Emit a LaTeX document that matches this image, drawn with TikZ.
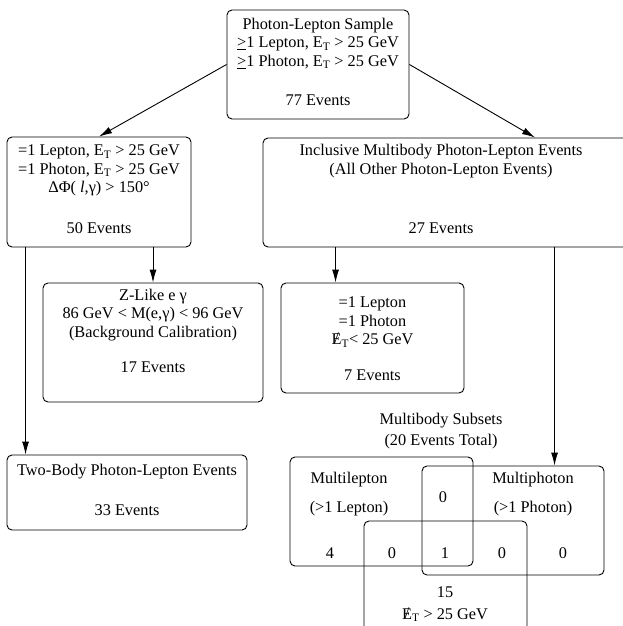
\documentclass[tikz,border=0pt]{standalone}
\usepackage{fontspec}
\setmainfont{Liberation Serif}
\usetikzlibrary{arrows.meta,positioning,calc}

\newcommand{\ET}{E$_{\mathrm{T}}$}
\newcommand{\metET}{\ooalign{E\cr\hidewidth\raisebox{0.1ex}{/}\hidewidth}$_{\mathrm{T}}$}
\newcommand{\geone}{\underline{>}1}

\begin{document}
\begin{tikzpicture}[x=1pt, y=-1pt,
  font=\fontsize{16.3}{18.5}\selectfont,
  box/.style={draw, rounded corners=5pt, line width=0.9pt, inner sep=0pt},
  txt/.style={align=center, inner sep=0pt},
  arr/.style={-{Latex[length=13pt,width=7pt]}, line width=0.9pt}]
  \useasboundingbox (0,0) rectangle (623,626);

  % boxes
  \node[box, minimum width=182pt, minimum height=109pt] (sample) at (318,64.5) {};
  \node[box, minimum width=184pt, minimum height=110pt] (twobodysel) at (99,192) {};
  \node[box, minimum width=544pt, minimum height=109pt] (incl) at (535,192.5) {};
  \node[box, minimum width=220pt, minimum height=119pt] (zlike) at (153,342.5) {};
  \node[box, minimum width=183pt, minimum height=110pt] (lowmet) at (372.5,338) {};
  \node[box, minimum width=240pt, minimum height=75pt] (twobody) at (127,492.5) {};
  \node[box, minimum width=183pt, minimum height=109pt] (multilep) at (381.5,511.5) {};
  \node[box, minimum width=182pt, minimum height=109pt] (multipho) at (513,520.5) {};
  \node[box, minimum width=163pt, minimum height=158pt] (highmet) at (445.5,600) {};

  % texts
  \node[txt] (sampleT) at (318,43.5) {Photon-Lepton Sample\\\geone{} Lepton, \ET{} > 25 GeV\\\geone{} Photon, \ET{} > 25 GeV};
  \node[txt] (sampleN) at (318,100) {77 Events};
  \node[txt] (twobodyselT) at (99,170.5) {=1 Lepton, \ET{} > 25 GeV\\=1 Photon, \ET{} > 25 GeV\\ΔΦ( \textit{l},γ) > 150°};
  \node[txt] (twobodyselN) at (99,228) {50 Events};
  \node[txt] (inclT) at (441,161) {Inclusive Multibody Photon-Lepton Events\\(All Other Photon-Lepton Events)};
  \node[txt] (inclN) at (441,228) {27 Events};
  \node[txt] (zlikeT) at (153,315) {Z-Like e γ\\86 GeV < M(e,γ) < 96 GeV\\(Background Calibration)};
  \node[txt] (zlikeN) at (153,367) {17 Events};
  \node[txt] (lowmetT) at (372.5,322) {=1 Lepton\\=1 Photon\\\metET< 25 GeV};
  \node[txt] (lowmetN) at (372.5,375) {7 Events};
  \node[txt] (twobodyT) at (127,472) {Two-Body Photon-Lepton Events};
  \node[txt] (twobodyN) at (127,510) {33 Events};
  \node[txt, font=\fontsize{16.3}{21}\selectfont] (subsets) at (441,431.5) {Multibody Subsets\\(20 Events Total)};
  \node[txt, font=\fontsize{16.3}{29}\selectfont] (multilepT) at (349,494.5) {Multilepton\\(>1 Lepton)};
  \node[txt, font=\fontsize{16.3}{29}\selectfont] (multiphoT) at (533,494.5) {Multiphoton\\(>1 Photon)};
  \node[txt] (nLPM) at (443,497) {0};
  \node[txt] (nL) at (330,553) {4};
  \node[txt] (nLM) at (392,553) {0};
  \node[txt] (nLPMall) at (445,553) {1};
  \node[txt] (nPM) at (502,553) {0};
  \node[txt] (nP) at (563,553) {0};
  \node[txt] (nM) at (445,592) {15};
  \node[txt] (metT) at (445,615) {\metET{} > 25 GeV};

  % connectors
  \draw[arr] (sample.west) -- (twobodysel.north);
  \draw[arr] (sample.east) -- (incl.north);
  \draw[arr] (twobodysel.south -| zlike.north) -- (zlike.north);
  \coordinate (twobodysplit) at ($(twobodysel.south west)+(19,0)$);
  \draw[arr] (twobodysplit) -- (twobodysplit |- twobody.north);
  \coordinate (lowmetsplit) at ($(incl.south west)+(73,0)$);
  \draw[arr] (lowmetsplit) -- (lowmetsplit |- lowmet.north);
  \coordinate (subsetsplit) at ($(incl.south west)+(292,0)$);
  \draw[arr] (subsetsplit) -- (subsetsplit |- multipho.north);
\end{tikzpicture}
\end{document}
